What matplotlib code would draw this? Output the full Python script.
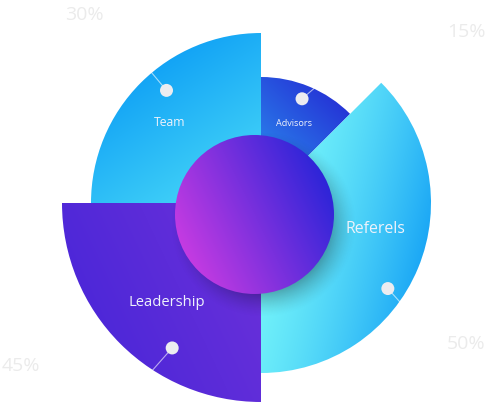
import numpy as np
import matplotlib
matplotlib.use("Agg")
import matplotlib.pyplot as plt
from matplotlib.patches import Wedge, Circle
from matplotlib.colors import to_rgb

plt.rcParams["font.family"] = ["Open Sans", "DejaVu Sans"]

W, H = 489, 403

# 항목 (12시 방향부터 시계방향)
categories = ["Advisors", "Referels", "Leadership", "Team"]
spans = [45, 135, 90, 90]            # 각도(도)
radii = [126, 170, 199, 170]         # 바깥 반지름(px)
pct_labels = ["15%", "50%", "45%", "30%"]

CX, CY = 261, H - 203                # 파이 중심 (y 위쪽 기준)

# 스타일: 그라데이션 (시작점, 끝점, 시작색, 끝색, 감마) - 이미지 픽셀 좌표
grads = [
    ((335, 95), (268, 165), "#2534d6", "#2a84ec", 1.0),
    ((268, 200), (438, 242), "#74f4fa", "#13a0f5", 1.4),
    ((75, 300), (255, 215), "#4c27d8", "#6c31da", 1.0),
    ((150, 40), (255, 200), "#0a9bf5", "#4cdcf8", 1.0),
]
label_pos = [(294, 123), (375, 229), (167, 302), (170, 123)]
label_size = [6.6, 11.4, 10.6, 8.8]
pct_pos = [(466, 32), (466, 344), (21, 366), (84, 15)]
# 점 위치(각도, 반지름)와 선 끝(각도, 반지름)
dots = [((68.5, 112), (65, 127)), ((-34, 153), (-35.5, 171)),
        ((-121.5, 170), (-123, 200)), ((130, 147), (130, 171))]

fig = plt.figure(figsize=(W / 100, H / 100), dpi=100)
ax = fig.add_axes([0, 0, 1, 1])
ax.set_xlim(0, W)
ax.set_ylim(0, H)
ax.axis("off")

xx, yy = np.meshgrid(np.arange(W) + 0.5, np.arange(H) + 0.5)


def gradient(p0, p1, c0, c1, g=1.0):
    x0, y0 = p0[0], H - p0[1]
    x1, y1 = p1[0], H - p1[1]
    dx, dy = x1 - x0, y1 - y0
    t = ((xx - x0) * dx + (yy - y0) * dy) / (dx * dx + dy * dy)
    t = (np.clip(t, 0, 1) ** g)[..., None]
    return (1 - t) * np.array(to_rgb(c0)) + t * np.array(to_rgb(c1))


start = 90
for i, name in enumerate(categories):
    t2 = start
    t1 = start - spans[i]
    start = t1
    wd = Wedge((CX, CY), radii[i], t1, t2, facecolor="none",
               edgecolor="none")
    ax.add_patch(wd)
    im = ax.imshow(gradient(*grads[i]), extent=(0, W, 0, H),
                   origin="lower", interpolation="bilinear", zorder=1)
    im.set_clip_path(wd)

# 가운데 원 그림자
SCX, SCY, SR = 254.5, H - 214.5, 79.5
d = np.hypot(xx - (SCX + 9), yy - (SCY - 10))
alpha = np.clip((SR + 14 - d) / 30, 0, 1) ** 1.5 * 0.35
shadow = np.zeros((H, W, 4))
shadow[..., 3] = alpha
ax.imshow(shadow, extent=(0, W, 0, H), origin="lower", zorder=2)

circ = Circle((SCX, SCY), SR, facecolor="none", edgecolor="none")
ax.add_patch(circ)
im = ax.imshow(gradient((180, 255), (332, 180), "#ca3ce2", "#2824d8"),
               extent=(0, W, 0, H), origin="lower",
               interpolation="bilinear", zorder=3)
im.set_clip_path(circ)

# 점 + 선
for (a0, r0), (a1, r1) in dots:
    x0 = CX + r0 * np.cos(np.radians(a0))
    y0 = CY + r0 * np.sin(np.radians(a0))
    x1 = CX + r1 * np.cos(np.radians(a1))
    y1 = CY + r1 * np.sin(np.radians(a1))
    ax.plot([x0, x1], [y0, y1], color="white", lw=0.8, alpha=0.6,
            zorder=4)
    ax.add_patch(Circle((x0, y0), 6.5, facecolor="#ececf0",
                        edgecolor="none", zorder=5))

for i, name in enumerate(categories):
    x, y = label_pos[i]
    ax.text(x, H - y, name, color="#eef2fb", fontsize=label_size[i],
            ha="center", va="center", zorder=6)
    px, py = pct_pos[i]
    ax.text(px, H - py, pct_labels[i], color="#ebebeb", fontsize=14,
            ha="center", va="center", zorder=6)

fig.savefig("out.png", dpi=100)
